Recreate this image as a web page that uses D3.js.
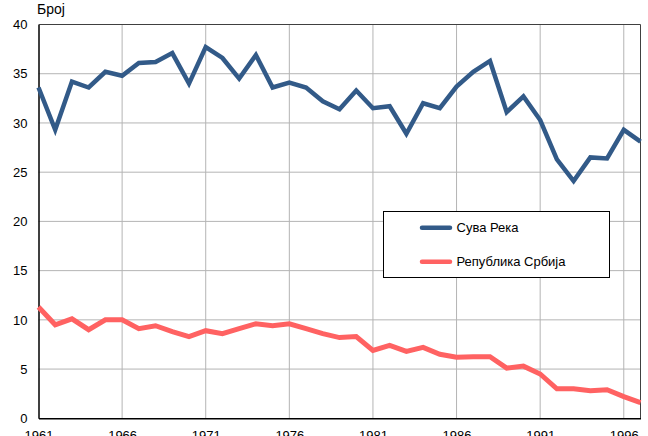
<!DOCTYPE html>
<html>
<head>
<meta charset="utf-8">
<script src="https://cdn.jsdelivr.net/npm/d3@7"></script>
<style>
  body { margin: 0; background: #fff; }
  svg { font-family: "Liberation Sans", Arial, sans-serif; }
</style>
</head>
<body>
<svg id="chart" width="648" height="436"></svg>
<script>
const years = d3.range(1961, 1998)
const suvaReka = [33.6, 29.3, 34.2, 33.6, 35.2, 34.8, 36.1, 36.2, 37.1, 34.0,
  37.7, 36.6, 34.5, 36.9, 33.6, 34.1, 33.6, 32.2, 31.4, 33.3,
  31.5, 31.7, 28.9, 32.0, 31.5, 33.7, 35.2, 36.3, 31.1, 32.7,
  30.3, 26.3, 24.1, 26.5, 26.4, 29.3, 28.1]
const srbija = [11.3, 9.5, 10.1, 9.0, 10.0, 10.0, 9.1, 9.4, 8.8, 8.3,
  8.9, 8.6, 9.1, 9.6, 9.4, 9.6, 9.1, 8.6, 8.2, 8.3,
  6.9, 7.4, 6.8, 7.2, 6.5, 6.2, 6.25, 6.25, 5.1, 5.3,
  4.5, 3.0, 3.0, 2.8, 2.9, 2.2, 1.6]
const xTicks = [1961, 1966, 1971, 1976, 1981, 1986, 1991, 1996]
const yTicks = [0, 5, 10, 15, 20, 25, 30, 35, 40]
const seriesNames = ['Сува Река', 'Република Србија']
const seriesColors = ['#325a88', '#ff6262']

const svg = d3.select('#chart')
const box = {left: 38.5, top: 24.5, right: 640.5, bottom: 418.3}

const x = d3.scaleLinear().domain([1961, 1997]).range([box.left, box.right])
const y = d3.scaleLinear().domain([0, 40]).range([box.bottom, box.top])

// grid
svg.append('g')
  .selectAll('line.h')
  .data(yTicks.filter(d => d > 0 && d < 40))
  .enter().append('line')
  .attr('x1', box.left).attr('x2', box.right)
  .attr('y1', d => y(d)).attr('y2', d => y(d))
  .style('stroke', '#b4b4b4').style('stroke-width', 1)

svg.append('g')
  .selectAll('line.v')
  .data(xTicks.filter(d => d > 1961))
  .enter().append('line')
  .attr('x1', d => x(d)).attr('x2', d => x(d))
  .attr('y1', box.top).attr('y2', box.bottom)
  .style('stroke', '#b4b4b4').style('stroke-width', 1)

// frame
svg.append('line')
  .attr('x1', box.left).attr('x2', box.right)
  .attr('y1', box.top).attr('y2', box.top)
  .style('stroke', '#404040')
svg.append('line')
  .attr('x1', box.right).attr('x2', box.right)
  .attr('y1', box.top).attr('y2', box.bottom)
  .style('stroke', '#404040')

// axes
const yAxis = svg.append('g')
  .attr('transform', `translate(${box.left},0)`)
  .call(d3.axisLeft(y).tickValues(yTicks).tickSize(0).tickPadding(11))
yAxis.select('.domain').style('stroke', '#000').style('stroke-width', 1.5)
yAxis.selectAll('text')
  .style('font-size', '13px').style('fill', '#000')
  .style('font-family', '"Liberation Sans", Arial, sans-serif')

const xAxis = svg.append('g')
  .attr('transform', `translate(0,${box.bottom})`)
  .call(d3.axisBottom(x).tickValues(xTicks).tickFormat(d3.format('d')).tickSize(0).tickPadding(12))
xAxis.select('.domain').style('stroke', '#000').style('stroke-width', 1.5)
xAxis.selectAll('text')
  .style('font-size', '13px').style('fill', '#000')
  .style('font-family', '"Liberation Sans", Arial, sans-serif')

// lines
const line = d3.line().x((d, i) => x(years[i])).y(d => y(d))
;[suvaReka, srbija].forEach((s, i) => {
  svg.append('path')
    .datum(s)
    .attr('d', line)
    .style('fill', 'none')
    .style('stroke', seriesColors[i])
    .style('stroke-width', i === 0 ? 4.5 : 5)
    .style('stroke-linejoin', 'miter')
})

// y label
svg.append('text')
  .attr('x', 37).attr('y', 14)
  .text('Број')
  .style('font-size', '14px')

// legend
const lg = svg.append('g')
lg.append('rect')
  .attr('x', 383.5).attr('y', 211.5)
  .attr('width', 226).attr('height', 66)
  .style('fill', '#fff').style('stroke', '#000')
seriesNames.forEach((n, i) => {
  const ly = 227.7 + i * 34
  lg.append('line')
    .attr('x1', 422).attr('x2', 450)
    .attr('y1', ly).attr('y2', ly)
    .style('stroke', seriesColors[i]).style('stroke-width', 4.5)
    .style('stroke-linecap', 'round')
  lg.append('text')
    .attr('x', 456.5).attr('y', ly + 4.5)
    .text(n)
    .style('font-size', '13px')
})
</script>
</body>
</html>
